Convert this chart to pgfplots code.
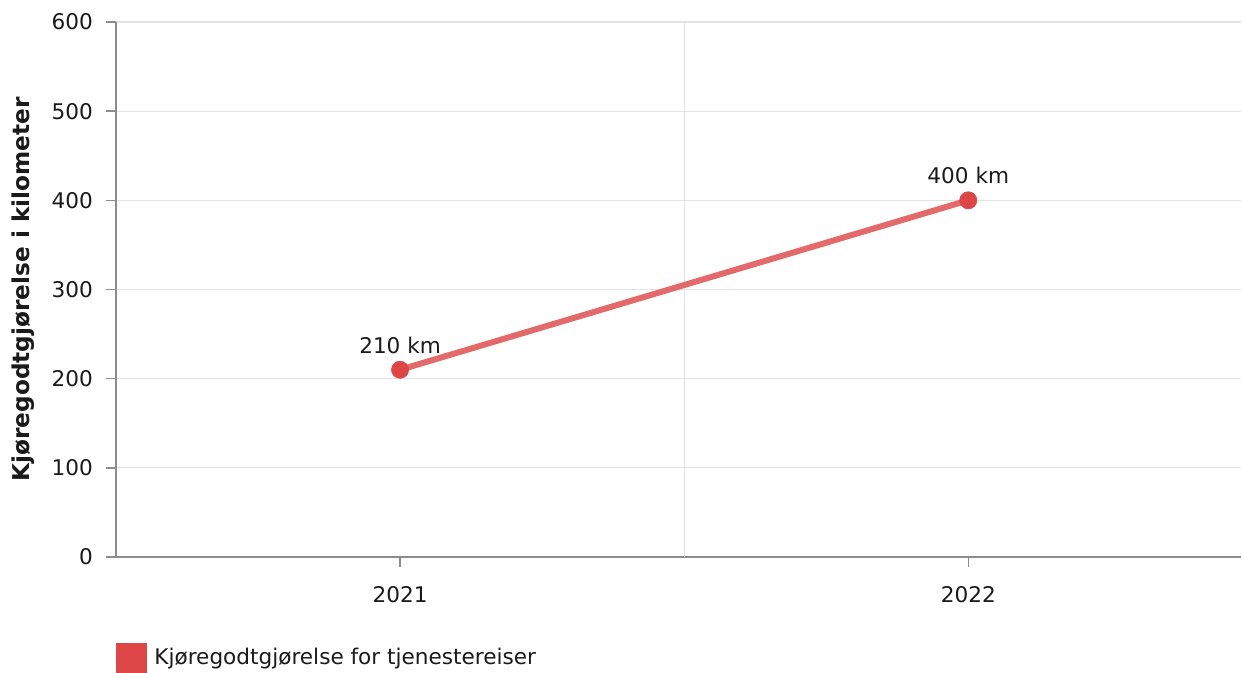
\documentclass[border=0pt]{standalone}
\usepackage{pgfplots}
\pgfplotsset{compat=1.18}
\usepackage{fontspec}
\setmainfont{DejaVu Sans}
\definecolor{ptred}{HTML}{DD4646}
\definecolor{linered}{HTML}{E46A6A}
\definecolor{gridc}{HTML}{E3E3E3}
\definecolor{axc}{HTML}{8C8C8C}
\definecolor{txt}{HTML}{1A1A1A}
\newcommand{\fs}{\fontsize{10.8}{13}\selectfont}
\begin{document}
\begin{tikzpicture}
\useasboundingbox (0pt,0pt) rectangle (621pt,336.5pt);
\begin{axis}[
  at={(58pt,58pt)}, anchor=south west,
  scale only axis, width=562.5pt, height=267.5pt,
  xmin=-0.5, xmax=1.48, ymin=0, ymax=600,
  xtick={0,1}, xticklabels={2021,2022},
  ytick={0,100,...,600},
  extra x ticks={0.5}, extra x tick labels={},
  extra x tick style={grid=major, tick style={draw=none}},
  ymajorgrids, major grid style={gridc, line width=0.6pt},
  axis x line*=bottom, axis y line*=left,
  axis line style={axc, line width=0.7pt, -},
  tick align=outside, major tick style={axc, line width=0.7pt},
  major tick length=5pt,
  tick label style={font=\fs, text=txt},
  yticklabel style={xshift=-3pt},
  xticklabel style={yshift=-6pt},
  /pgf/number format/assume math mode=true,
  ylabel={\textbf{Kjøregodtgjørelse i kilometer}},
  ylabel style={font=\fontsize{11.6}{13}\selectfont, text=txt, yshift=1.5pt},
  legend style={at={(axis description cs:0,-0.189)}, anchor=west, draw=none, inner sep=0pt, font=\fs, text=txt, fill=none},
  legend cell align=left,
  legend image code/.code={\fill[ptred] (0pt,-6pt) rectangle (12.5pt,6pt); \path (14pt,0pt);},
  clip=false,
]
\addplot[linered, line width=3pt, mark=*, mark size=4.3pt, mark options={fill=ptred, draw=ptred, line width=0.3pt},
  nodes near coords={\pgfmathprintnumber{\pgfplotspointmeta}~km},
  every node near coord/.append style={anchor=south, yshift=8pt, inner sep=0pt, font=\fs, text=txt},
  point meta=explicit]
  coordinates {(0,210) [210] (1,400) [400]};
\addlegendentry{Kjøregodtgjørelse for tjenestereiser}
\end{axis}
\end{tikzpicture}
\end{document}
